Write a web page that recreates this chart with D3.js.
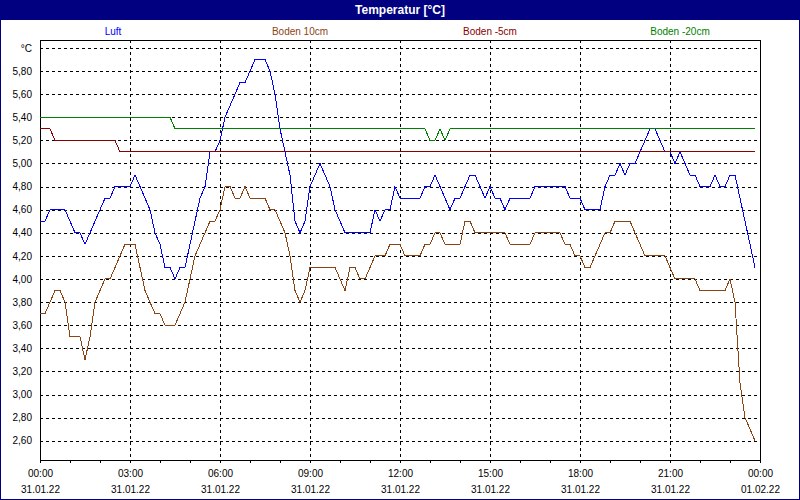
<!DOCTYPE html>
<html>
<head>
<meta charset="utf-8">
<script src="https://cdn.jsdelivr.net/npm/d3@7"></script>
<style>
  body { margin: 0; background: #fff; }
  svg { display: block; }
  text { font-family: "Liberation Sans", Arial, sans-serif; }
</style>
</head>
<body>
<svg id="chart" width="800" height="500"></svg>
<script>
// 10-minute readings, 31.01.22 00:00 .. 23:50
const startTime = new Date(2022, 0, 31, 0, 0);
const endTime = new Date(2022, 1, 1, 0, 0);
const stepMinutes = 10;

const seriesNames = ["Luft", "Boden 10cm", "Boden -5cm", "Boden -20cm"];
const seriesColors = ["#0000ff", "#8b4513", "#8b0000", "#008000"];

const luft = [
  4.5,4.5,4.6,4.6,4.6,4.6,4.5,4.4,4.4,4.3,4.4,4.5,
  4.6,4.7,4.7,4.8,4.8,4.8,4.8,4.9,4.8,4.7,4.6,4.4,
  4.3,4.1,4.1,4.0,4.1,4.1,4.3,4.5,4.7,4.8,5.1,5.1,
  5.2,5.4,5.5,5.6,5.7,5.7,5.8,5.9,5.9,5.9,5.8,5.6,
  5.3,5.1,4.9,4.5,4.4,4.5,4.8,4.9,5.0,4.9,4.8,4.6,
  4.5,4.4,4.4,4.4,4.4,4.4,4.4,4.6,4.5,4.6,4.6,4.8,
  4.7,4.7,4.7,4.7,4.7,4.8,4.8,4.9,4.8,4.7,4.6,4.7,
  4.7,4.8,4.9,4.9,4.8,4.7,4.8,4.7,4.7,4.6,4.7,4.7,
  4.7,4.7,4.7,4.8,4.8,4.8,4.8,4.8,4.8,4.8,4.7,4.7,
  4.7,4.6,4.6,4.6,4.6,4.8,4.9,4.9,5.0,4.9,5.0,5.0,
  5.1,5.2,5.3,5.3,5.2,5.1,5.1,5.0,5.1,5.0,4.9,4.9,
  4.8,4.8,4.8,4.9,4.8,4.8,4.9,4.9,4.7,4.5,4.3,4.1
];

const boden10 = [
  3.7,3.7,3.8,3.9,3.9,3.8,3.5,3.5,3.5,3.3,3.5,3.8,
  3.9,4.0,4.0,4.1,4.2,4.3,4.3,4.3,4.1,3.9,3.8,3.7,
  3.7,3.6,3.6,3.6,3.7,3.8,4.0,4.2,4.3,4.4,4.5,4.5,
  4.6,4.8,4.8,4.7,4.7,4.8,4.7,4.7,4.7,4.7,4.6,4.6,
  4.5,4.4,4.2,3.9,3.8,3.9,4.1,4.1,4.1,4.1,4.1,4.1,
  4.0,3.9,4.1,4.1,4.0,4.0,4.1,4.2,4.2,4.2,4.3,4.3,
  4.3,4.2,4.2,4.2,4.2,4.3,4.3,4.4,4.4,4.3,4.3,4.3,
  4.3,4.5,4.5,4.4,4.4,4.4,4.4,4.4,4.4,4.4,4.3,4.3,
  4.3,4.3,4.3,4.4,4.4,4.4,4.4,4.4,4.4,4.3,4.3,4.2,
  4.2,4.1,4.1,4.2,4.3,4.4,4.4,4.5,4.5,4.5,4.5,4.4,
  4.3,4.2,4.2,4.2,4.2,4.2,4.1,4.0,4.0,4.0,4.0,4.0,
  3.9,3.9,3.9,3.9,3.9,3.9,4.0,3.8,3.1,2.8,2.7,2.6
];

const boden5 = [
  5.3,5.3,5.3,5.2,5.2,5.2,5.2,5.2,5.2,5.2,5.2,5.2,
  5.2,5.2,5.2,5.2,5.1,5.1,5.1,5.1,5.1,5.1,5.1,5.1,
  5.1,5.1,5.1,5.1,5.1,5.1,5.1,5.1,5.1,5.1,5.1,5.1,
  5.1,5.1,5.1,5.1,5.1,5.1,5.1,5.1,5.1,5.1,5.1,5.1,
  5.1,5.1,5.1,5.1,5.1,5.1,5.1,5.1,5.1,5.1,5.1,5.1,
  5.1,5.1,5.1,5.1,5.1,5.1,5.1,5.1,5.1,5.1,5.1,5.1,
  5.1,5.1,5.1,5.1,5.1,5.1,5.1,5.1,5.1,5.1,5.1,5.1,
  5.1,5.1,5.1,5.1,5.1,5.1,5.1,5.1,5.1,5.1,5.1,5.1,
  5.1,5.1,5.1,5.1,5.1,5.1,5.1,5.1,5.1,5.1,5.1,5.1,
  5.1,5.1,5.1,5.1,5.1,5.1,5.1,5.1,5.1,5.1,5.1,5.1,
  5.1,5.1,5.1,5.1,5.1,5.1,5.1,5.1,5.1,5.1,5.1,5.1,
  5.1,5.1,5.1,5.1,5.1,5.1,5.1,5.1,5.1,5.1,5.1,5.1
];

const boden20 = [
  5.4,5.4,5.4,5.4,5.4,5.4,5.4,5.4,5.4,5.4,5.4,5.4,
  5.4,5.4,5.4,5.4,5.4,5.4,5.4,5.4,5.4,5.4,5.4,5.4,
  5.4,5.4,5.4,5.3,5.3,5.3,5.3,5.3,5.3,5.3,5.3,5.3,
  5.3,5.3,5.3,5.3,5.3,5.3,5.3,5.3,5.3,5.3,5.3,5.3,
  5.3,5.3,5.3,5.3,5.3,5.3,5.3,5.3,5.3,5.3,5.3,5.3,
  5.3,5.3,5.3,5.3,5.3,5.3,5.3,5.3,5.3,5.3,5.3,5.3,
  5.3,5.3,5.3,5.3,5.3,5.3,5.2,5.2,5.3,5.2,5.3,5.3,
  5.3,5.3,5.3,5.3,5.3,5.3,5.3,5.3,5.3,5.3,5.3,5.3,
  5.3,5.3,5.3,5.3,5.3,5.3,5.3,5.3,5.3,5.3,5.3,5.3,
  5.3,5.3,5.3,5.3,5.3,5.3,5.3,5.3,5.3,5.3,5.3,5.3,
  5.3,5.3,5.3,5.3,5.3,5.3,5.3,5.3,5.3,5.3,5.3,5.3,
  5.3,5.3,5.3,5.3,5.3,5.3,5.3,5.3,5.3,5.3,5.3,5.3
];

const yTicks = [2.6,2.8,3.0,3.2,3.4,3.6,3.8,4.0,4.2,4.4,4.6,4.8,5.0,5.2,5.4,5.6,5.8,6.0];
const yDomain = [2.433, 6.069];

const svg = d3.select("#chart");
const W = 800, H = 500;
const plot = { left: 40, top: 40, right: 760, bottom: 460 };
const navy = "#000080";

// background + frame of the window
svg.append("rect").attr("width", W).attr("height", H).attr("fill", "#fff");
svg.append("rect").attr("width", W).attr("height", 20).attr("fill", navy);
svg.append("rect")
    .attr("x", 0.5).attr("y", 0.5).attr("width", W - 1).attr("height", H - 1)
    .attr("fill", "none").attr("stroke", navy).attr("stroke-width", 1);
svg.append("text")
    .attr("x", W / 2).attr("y", 14)
    .attr("text-anchor", "middle")
    .attr("fill", "#fff").attr("font-weight", "bold").attr("font-size", 12)
    .text("Temperatur [°C]");

// legend
const legendX = [113, 300, 490, 680];
svg.selectAll(".legend")
    .data(seriesNames)
    .enter().append("text")
    .attr("class", "legend")
    .attr("x", (d, i) => legendX[i])
    .attr("y", 35)
    .attr("text-anchor", "middle")
    .attr("font-size", 10)
    .attr("fill", (d, i) => seriesColors[i])
    .text(d => d);

const x = d3.scaleTime().domain([startTime, endTime]).range([plot.left, plot.right]);
const y = d3.scaleLinear().domain(yDomain).range([plot.bottom, plot.top]);

const times = luft.map((v, i) => d3.timeMinute.offset(startTime, i * stepMinutes));

// horizontal grid
svg.append("g")
    .selectAll("line")
    .data(yTicks)
    .enter().append("line")
    .attr("x1", plot.left).attr("x2", plot.right)
    .attr("y1", d => Math.round(y(d)) + 0.5).attr("y2", d => Math.round(y(d)) + 0.5)
    .attr("stroke", "#000").attr("stroke-dasharray", "3,3");

// vertical grid every 3 hours
const majorTicks = d3.timeHour.every(3).range(startTime, d3.timeMinute.offset(endTime, 1));
svg.append("g")
    .selectAll("line")
    .data(majorTicks.slice(1, -1))
    .enter().append("line")
    .attr("x1", d => Math.round(x(d)) + 0.5).attr("x2", d => Math.round(x(d)) + 0.5)
    .attr("y1", plot.top).attr("y2", plot.bottom)
    .attr("stroke", "#000").attr("stroke-dasharray", "3,3");

// y labels
const fmtY = d => d3.format(".2f")(d).replace(".", ",");
svg.append("g")
    .attr("transform", `translate(${plot.left},0)`)
    .call(d3.axisLeft(y).tickValues(yTicks).tickSize(0).tickPadding(8)
        .tickFormat(d => d === 6.0 ? "°C" : fmtY(d)))
    .call(g => g.select(".domain").remove())
    .selectAll("text")
    .attr("font-size", 10)
    .attr("font-family", "Liberation Sans, Arial, sans-serif")
    .attr("fill", "#000");

// x axis: hourly minor ticks, labels every 3h
svg.append("g")
    .attr("transform", `translate(0,${plot.bottom})`)
    .call(d3.axisBottom(x).ticks(d3.timeHour.every(1)).tickSize(3).tickFormat(""))
    .call(g => g.select(".domain").remove());

const fmtTime = d3.timeFormat("%H:%M");
const fmtDate = d3.timeFormat("%d.%m.%y");
const xAxis = svg.append("g")
    .attr("transform", `translate(0,${plot.bottom})`)
    .call(d3.axisBottom(x).tickValues(majorTicks).tickSize(3).tickFormat(""))
    .call(g => g.select(".domain").remove());
xAxis.selectAll(".tick").append("text")
    .attr("fill", "#000").attr("font-size", 10)
    .attr("text-anchor", "middle")
    .attr("font-family", "Liberation Sans, Arial, sans-serif")
    .call(t => t.append("tspan").attr("x", 0).attr("y", 17).text(d => fmtTime(d)))
    .call(t => t.append("tspan").attr("x", 0).attr("y", 33).text(d => fmtDate(d)));

// plot frame
svg.append("rect")
    .attr("x", plot.left + 0.5).attr("y", plot.top + 0.5)
    .attr("width", plot.right - plot.left).attr("height", plot.bottom - plot.top)
    .attr("fill", "none").attr("stroke", "#000").attr("stroke-width", 1);

// series
const allSeries = [luft, boden10, boden5, boden20];
const line = d3.line()
    .x((d, i) => x(times[i]))
    .y(d => y(d));

svg.append("g")
    .selectAll("path")
    .data(allSeries)
    .enter().append("path")
    .attr("d", d => line(d))
    .attr("fill", "none")
    .attr("stroke", (d, i) => seriesColors[i])
    .attr("stroke-width", 1)
    .attr("shape-rendering", "crispEdges");
</script>
</body>
</html>
